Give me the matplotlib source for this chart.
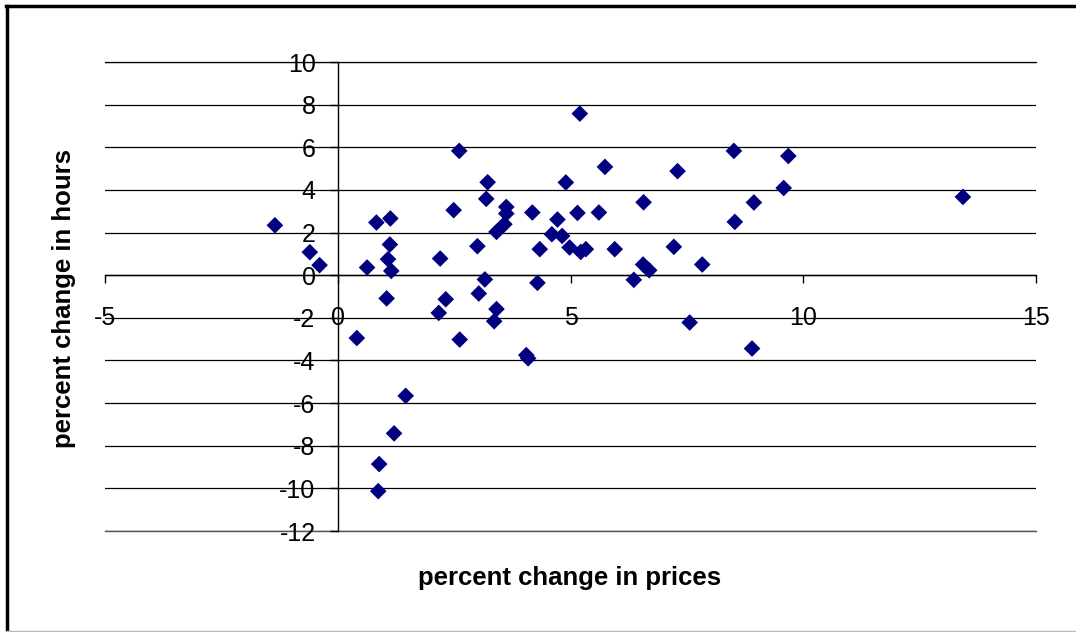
import numpy as np
import matplotlib.pyplot as plt
from matplotlib.lines import Line2D

# data
price_change = [-1.35, -0.6, -0.39, 0.41, 0.63, 0.83, 1.13, 1.12, 1.08, 1.15,
                1.05, 0.89, 0.87, 1.21, 1.46, 2.2, 2.17, 2.32, 2.62, 2.61,
                2.49, 3.22, 3.19, 3.0, 3.16, 3.03, 3.41, 3.36, 3.62, 3.62,
                3.58, 3.41, 4.18, 4.34, 4.29, 4.05, 4.09, 5.2, 5.74, 4.9,
                5.15, 5.61, 4.72, 4.6, 4.82, 4.98, 5.22, 5.33, 5.95, 6.57,
                7.3, 7.22, 6.56, 6.69, 6.36, 7.83, 7.56, 8.51, 8.53, 8.94,
                9.58, 9.68, 8.9, 13.43]
hours_change = [2.34, 1.08, 0.47, -2.95, 0.36, 2.47, 2.66, 1.44, 0.75, 0.2,
                -1.09, -8.86, -10.13, -7.42, -5.66, 0.78, -1.77, -1.13, -3.02, 5.83,
                3.05, 4.36, 3.58, 1.36, -0.2, -0.86, -1.59, -2.16, 3.2, 2.89,
                2.39, 2.03, 2.94, 1.22, -0.36, -3.75, -3.9, 7.58, 5.08, 4.35,
                2.92, 2.94, 2.61, 1.92, 1.84, 1.3, 1.09, 1.22, 1.22, 3.42,
                4.88, 1.33, 0.5, 0.23, -0.22, 0.5, -2.22, 5.83, 2.5, 3.41,
                4.09, 5.59, -3.44, 3.67]

x_ticks = [-5, 0, 5, 10, 15]
y_ticks = [-12, -10, -8, -6, -4, -2, 0, 2, 4, 6, 8, 10]

plt.rcParams['font.family'] = ['Liberation Sans', 'DejaVu Sans']
plt.rcParams['axes.unicode_minus'] = False

fig = plt.figure(figsize=(10.76, 6.32), dpi=100)
ax = fig.add_axes([105/1076, 1-531/632, (1036-105)/1076, (531-62)/632])

ax.scatter(price_change, hours_change, marker='D', s=72, color='#000080',
           edgecolors='none', zorder=3)

ax.set_xlim(-5, 15)
ax.set_ylim(-12, 10)
ax.set_xticks(x_ticks)
ax.set_yticks(y_ticks)

# excel style axes crossing at the origin
ax.spines['top'].set_visible(False)
ax.spines['right'].set_visible(False)
ax.spines['left'].set_position(('data', 0))
ax.spines['bottom'].set_position(('data', 0))
ax.spines['left'].set_linewidth(1)
ax.spines['bottom'].set_linewidth(1)

ax.yaxis.grid(True, color='black', lw=0.9)
ax.axhline(-12, color='#555555', lw=1, clip_on=False, zorder=0)
ax.axhline(10, color='black', lw=0.9, clip_on=False, zorder=0)
ax.set_axisbelow(True)
ax.tick_params(axis='x', direction='out', length=6, width=1, pad=16, labelsize=18)
ax.tick_params(axis='y', direction='out', length=6, width=1, pad=10, labelsize=18)

fig.text(570/1076, 1-578/632, 'percent change in prices', ha='center', va='center',
         fontsize=18.5, fontweight='bold')
fig.text(64/1076, 1-298/632, 'percent change in hours', ha='center', va='center',
         rotation=90, fontsize=18.5, fontweight='bold')

# outer chart frame
fig.add_artist(Line2D([7/1076, 7/1076], [0, 1-6/632], color='black', lw=2.5,
                      transform=fig.transFigure))
fig.add_artist(Line2D([6/1076, 1], [1-6/632, 1-6/632], color='black', lw=2.5,
                      transform=fig.transFigure))
fig.add_artist(Line2D([6/1076, 1], [1/632, 1/632], color='#bbbbbb', lw=1,
                      transform=fig.transFigure))

fig.savefig('out.png', dpi=100)
